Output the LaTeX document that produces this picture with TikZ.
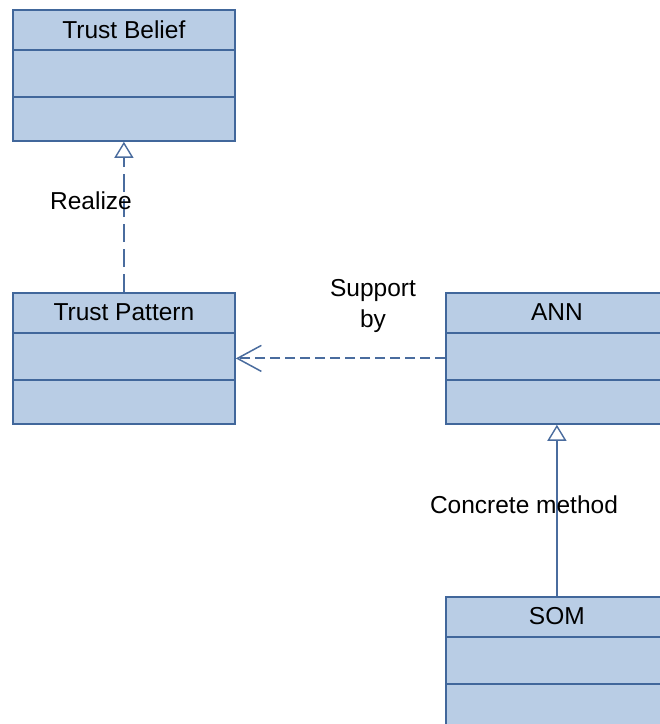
\documentclass[tikz,border=0pt]{standalone}
\usepackage{fontspec}
\setmainfont{Liberation Sans}
\usetikzlibrary{arrows.meta}
\definecolor{boxfill}{HTML}{B9CDE5}
\definecolor{boxline}{HTML}{41679B}
\definecolor{conn}{HTML}{4A6C9E}
\begin{document}
\begin{tikzpicture}[x=1pt,y=-1pt,
  classbox/.style={draw=boxline,line width=1.8pt,fill=boxfill,minimum width=222pt,minimum height=131pt,inner sep=0pt,anchor=north west},
  divider/.style={draw=boxline,line width=1.8pt},
  title/.style={font=\fontsize{24.5}{28}\selectfont,text=black},
  lbl/.style={font=\fontsize{24.5}{31}\selectfont,text=black,align=center},
  realize/.style={draw=conn,line width=2pt,dash pattern=on 18pt off 7pt,-{Triangle[open,length=16pt,width=19pt,line width=1.4pt,fill=white]}},
  depend/.style={draw=conn,line width=2pt,dash pattern=on 10pt off 5pt,-{Straight Barb[length=24pt,width=26pt,line width=1.5pt]}},
  general/.style={draw=conn,line width=2pt,-{Triangle[open,length=16pt,width=19pt,line width=1.4pt,fill=white]}}]
\useasboundingbox (0,0) rectangle (660,724);
\clip (0,0) rectangle (660,724);
% boxes
\node[classbox] (tb) at (12,9) {};
\node[classbox] (tp) at (12,292) {};
\node[classbox] (ann) at (445,292) {};
\node[classbox] (som) at (445,596) {};
% dividers and titles
\foreach \b/\t in {tb/Trust Belief,tp/Trust Pattern,ann/ANN,som/SOM}{
  \draw[divider] ([yshift=-41pt]\b.north west) -- ([yshift=-41pt]\b.north east);
  \draw[divider] ([yshift=-88pt]\b.north west) -- ([yshift=-88pt]\b.north east);
  \node[title] (\b-title) at ([yshift=-20.5pt]\b.north) {\t};
}
% connectors
\draw[realize] (tp.north) -- (tb.south);
\draw[depend] (ann.west) -- (tp.east);
\draw[general] (som.north) -- (ann.south);
% labels
\node[lbl] (l1) at (91,201) {Realize};
\node[lbl] (l2) at (373,306) {Support\\by};
\node[lbl] (l3) at (524,505) {Concrete method};
\end{tikzpicture}
\end{document}
